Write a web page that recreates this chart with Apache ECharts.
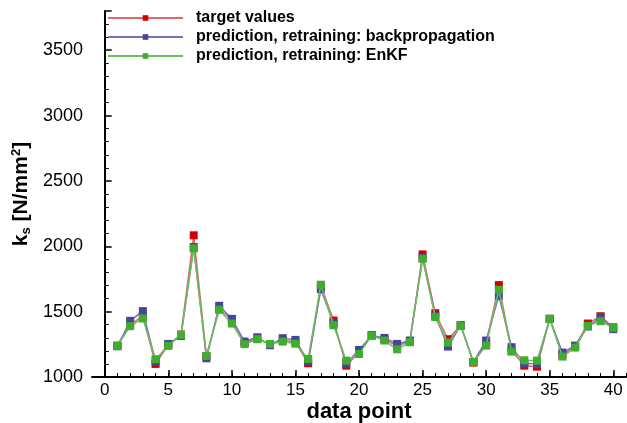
<!DOCTYPE html>
<html>
<head>
<meta charset="utf-8">
<script src="https://cdn.jsdelivr.net/npm/echarts@6/dist/echarts.min.js"></script>
<style>
  html, body { margin: 0; padding: 0; background: #fff; }
  #main { width: 627px; height: 423px; }
</style>
</head>
<body>
<div id="main"></div>
<script>
var dataPoints = [1, 2, 3, 4, 5, 6, 7, 8, 9, 10, 11, 12, 13, 14, 15, 16, 17, 18, 19, 20,
  21, 22, 23, 24, 25, 26, 27, 28, 29, 30, 31, 32, 33, 34, 35, 36, 37, 38, 39, 40]
var targetValues = [1240, 1400, 1465, 1100, 1245, 1325, 2084, 1160, 1520, 1440,
  1260, 1295, 1250, 1280, 1270, 1105, 1700, 1432, 1087, 1190,
  1320, 1285, 1240, 1270, 1938, 1488, 1289, 1395, 1110, 1255,
  1703, 1200, 1087, 1079, 1445, 1170, 1235, 1409, 1465, 1380]
var backpropValues = [1235, 1430, 1504, 1118, 1253, 1314, 1995, 1143, 1545, 1445,
  1271, 1304, 1243, 1297, 1284, 1118, 1672, 1412, 1105, 1207,
  1317, 1299, 1253, 1279, 1910, 1468, 1233, 1395, 1115, 1279,
  1621, 1228, 1105, 1100, 1445, 1187, 1240, 1386, 1458, 1366]
var enkfValues = [1238, 1389, 1448, 1136, 1238, 1322, 1984, 1161, 1514, 1409,
  1251, 1289, 1253, 1271, 1255, 1138, 1706, 1396, 1125, 1176,
  1317, 1279, 1212, 1266, 1905, 1458, 1263, 1391, 1115, 1240,
  1667, 1194, 1128, 1125, 1445, 1156, 1225, 1391, 1427, 1376]
var seriesNames = ['target values', 'prediction, retraining: backpropagation', 'prediction, retraining: EnKF']
var xMajorTicks = [0, 5, 10, 15, 20, 25, 30, 35, 40]
var xMinorTicks = [0, 1, 2, 3, 4, 5, 6, 7, 8, 9, 10, 11, 12, 13, 14, 15, 16, 17, 18, 19, 20,
  21, 22, 23, 24, 25, 26, 27, 28, 29, 30, 31, 32, 33, 34, 35, 36, 37, 38, 39, 40, 41]

var font = "'Liberation Sans', Arial, Helvetica, sans-serif"
var colors = ['#d20000', '#45459e', '#3fae2e']
var lineColors = ['#e06a6a', '#7474b8', '#6cc05c']

function pairs(ys) {
  return dataPoints.map(function(x, i) { return [x, ys[i]] })
}

var chart = echarts.init(document.getElementById('main'))

var series = [targetValues, backpropValues, enkfValues].map(function(ys, i) {
  return {
    name: seriesNames[i],
    type: 'line',
    data: pairs(ys),
    symbol: 'rect',
    symbolSize: 8,
    itemStyle: { color: colors[i] },
    lineStyle: { color: lineColors[i], width: 1.5 },
    z: 2 + i,
    animation: false
  }
})

var option = {
  animation: false,
  grid: { left: 92, right: 1, top: 11, bottom: 46, outerBoundsMode: 'none' },
  legend: {
    orient: 'vertical',
    left: 107,
    top: 10,
    padding: 0,
    itemWidth: 75,
    itemHeight: 7,
    itemGap: 3,
    data: seriesNames,
    textStyle: { fontFamily: font, fontWeight: 'bold', fontSize: 16, color: '#000', padding: [0, 0, 0, 8] }
  },
  xAxis: [
    {
      type: 'value',
      min: -1,
      max: 41,
      name: 'data point',
      nameLocation: 'middle',
      nameGap: 24,
      nameMoveOverlap: false,
      nameTextStyle: { fontFamily: font, fontWeight: 'bold', fontSize: 22, color: '#000' },
      axisLine: { onZero: false, lineStyle: { color: '#000', width: 2 } },
      axisTick: { inside: true, length: 7, customValues: xMajorTicks, lineStyle: { color: '#000', width: 1.5 } },
      axisLabel: { customValues: xMajorTicks, fontFamily: font, fontSize: 17, color: '#000', margin: 5 },
      splitLine: { show: false }
    },
    {
      type: 'value',
      min: -1,
      max: 41,
      position: 'bottom',
      axisLine: { show: false },
      axisTick: { inside: true, length: 4, customValues: xMinorTicks, lineStyle: { color: '#000', width: 1 } },
      axisLabel: { show: false },
      splitLine: { show: false }
    }
  ],
  yAxis: {
    type: 'value',
    min: 1000,
    max: 3800,
    interval: 500,
    name: 'k{s|s} [N/mm{sup|2}]',
    nameLocation: 'middle',
    nameGap: 59,
    nameMoveOverlap: false,
    nameTextStyle: {
      fontFamily: font, fontWeight: 'bold', fontSize: 21, color: '#000',
      rich: {
        s: { fontFamily: font, fontWeight: 'bold', fontSize: 13, color: '#000', verticalAlign: 'bottom', padding: [8, 0, 0, 0] },
        sup: { fontFamily: font, fontWeight: 'bold', fontSize: 13, color: '#000', verticalAlign: 'top', padding: [0, 0, 10, 0] }
      }
    },
    axisLine: { show: true, lineStyle: { color: '#000', width: 2 } },
    axisTick: { inside: true, length: 7, lineStyle: { color: '#000', width: 1.5 } },
    minorTick: { show: true, splitNumber: 5, length: 4, lineStyle: { color: '#000', width: 1 } },
    axisLabel: {
      showMaxLabel: false, fontFamily: font, fontSize: 18, color: '#000', margin: 9,
      formatter: function(v) { return String(v) }
    },
    splitLine: { show: false }
  },
  series: series
}

chart.setOption(option)
</script>
</body>
</html>
